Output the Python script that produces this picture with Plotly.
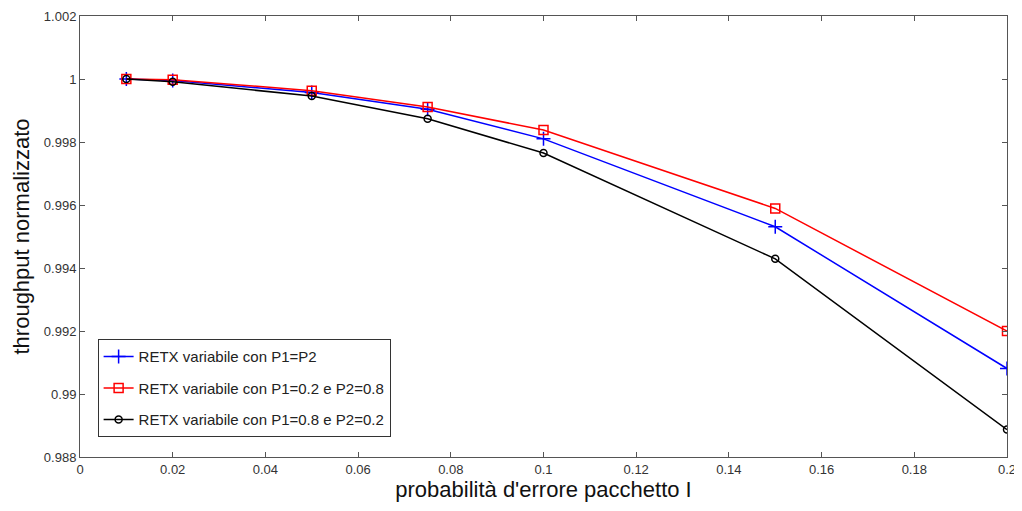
import plotly.graph_objects as go

x_vals = [0.01, 0.02, 0.05, 0.075, 0.1, 0.15, 0.2]
blue_vals = [1.0, 0.99995, 0.99957, 0.99904, 0.99810, 0.99531, 0.99081]
red_vals = [1.0, 0.99998, 0.99963, 0.99911, 0.99838, 0.99589, 0.99200]
black_vals = [1.0, 0.99991, 0.99946, 0.99874, 0.99765, 0.99429, 0.98887]

names = ["RETX variabile con P1=P2",
         "RETX variabile con P1=0.2 e P2=0.8",
         "RETX variabile con P1=0.8 e P2=0.2"]

x_ticks = [0, 0.02, 0.04, 0.06, 0.08, 0.1, 0.12, 0.14, 0.16, 0.18, 0.2]
x_tick_text = ["0", "0.02", "0.04", "0.06", "0.08", "0.1", "0.12", "0.14", "0.16", "0.18", "0.2"]
y_ticks = [0.988, 0.99, 0.992, 0.994, 0.996, 0.998, 1.0, 1.002]
y_tick_text = ["0.988", "0.99", "0.992", "0.994", "0.996", "0.998", "1", "1.002"]

fig = go.Figure()
fig.add_trace(go.Scatter(x=x_vals, y=blue_vals, mode="lines+markers", name=names[0],
                         legendgroup="a",
                         line=dict(color="#0000ff", width=1.5),
                         marker=dict(symbol="cross-thin", size=10, color="#0000ff",
                                     line=dict(color="#0000ff", width=1.5))))
fig.add_trace(go.Scatter(x=x_vals, y=red_vals, mode="lines+markers", name=names[1],
                         legendgroup="b",
                         line=dict(color="#ff0000", width=1.5),
                         marker=dict(symbol="square-open", size=9, color="#ff0000",
                                     line=dict(color="#ff0000", width=1.5))))
fig.add_trace(go.Scatter(x=x_vals, y=black_vals, mode="lines+markers", name=names[2],
                         legendgroup="c",
                         line=dict(color="#000000", width=1.5),
                         marker=dict(symbol="circle-open", size=7, color="#000000",
                                     line=dict(color="#000000", width=1.5))))

axis_common = dict(showgrid=False, zeroline=False, showline=True, mirror="ticks",
                   automargin=False,
                   linecolor="#555555", linewidth=1, ticks="inside", ticklen=5,
                   tickcolor="#555555", tickfont=dict(family="Liberation Sans", size=13, color="#333333"))

# page body has an 8px default margin; compensate so the plot area lands at the reference position
fig.update_layout(
    width=1014, height=503,
    margin=dict(l=72, r=15, t=8, b=54),
    paper_bgcolor="white", plot_bgcolor="white",
    font=dict(family="Liberation Sans", color="#111111"),
    xaxis=dict(range=[0, 0.2], tickvals=x_ticks, ticktext=x_tick_text,
               title=dict(text="probabilità d'errore pacchetto I", font=dict(size=22), standoff=4),
               **axis_common),
    yaxis=dict(range=[0.988, 1.002], tickvals=y_ticks, ticktext=y_tick_text,
               title=dict(text="throughput normalizzato", font=dict(size=22), standoff=8),
               **axis_common),
    legend=dict(x=0.019, y=0.045, xanchor="left", yanchor="bottom",
                bordercolor="#333333", borderwidth=1, bgcolor="white",
                font=dict(family="Liberation Sans", size=15, color="#222222"),
                tracegroupgap=9, itemwidth=30, entrywidth=300, entrywidthmode="pixels"),
    showlegend=True,
)

fig.write_html("out.html")
